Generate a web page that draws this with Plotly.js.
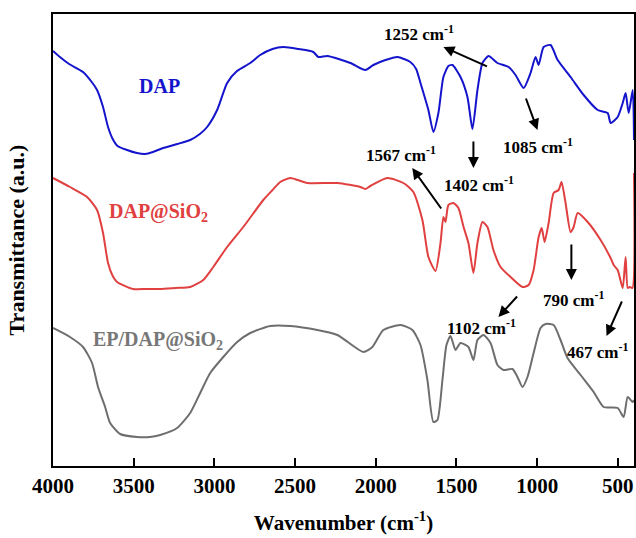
<!DOCTYPE html>
<html>
<head>
<meta charset="utf-8">
<script src="https://cdn.plot.ly/plotly-3.0.1.min.js"></script>
<style>html,body{margin:0;padding:0;background:#fff;}#chart{width:636px;height:538px;}</style>
</head>
<body>
<div id="chart"></div>
<script>
// Wavenumber (cm-1) and transmittance (a.u., offset curves)
const dapWavenumber = [4000,3957,3900,3814,3760,3727,3690,3659,3630,3600,3541,3480,3429,3380,3318,3230,3150,3090,3045,2983,2921,2860,2778,2716,2640,2573,2480,2387,2356,2300,2157,2065,2015,1940,1866,1786,1750,1723,1674,1643,1612,1581,1550,1525,1475,1432,1401,1370,1339,1301,1246,1177,1134,1084,1041,1010,991,960,917,873,793,712,625,563,545,501,470,452,433,408,400];
const dapValues = [415,409,402,394,384,376,359,339,327,320,316,313,312,314,318,322,326,332,339,356,383,395,403,411,417,419,417,414,409,410,403,396,401,406,409,404,397,383,356,334,353,389,400,401,389,369,337,376,403,410,403,399,391,378,393,409,401,419,421,406,389,371,356,353,343,349,363,373,353,376,326];

const dapSiO2Wavenumber = [4000,3895,3789,3727,3690,3659,3630,3603,3504,3420,3336,3240,3150,3069,3007,2921,2821,2697,2640,2592,2530,2424,2238,2096,2065,2034,1928,1829,1767,1711,1674,1630,1599,1581,1568,1550,1519,1488,1456,1426,1395,1370,1339,1308,1271,1227,1165,1091,1053,1022,991,972,954,929,898,867,849,824,793,774,749,687,607,545,526,501,470,452,439,427,410,400];
const dapSiO2Values = [288,279,269,256,233,203,190,184,177,177,177,178,179,186,199,219,239,266,276,284,288,283,283,279,277,280,288,283,274,246,209,195,223,249,244,261,263,258,239,223,193,223,244,239,216,199,189,179,181,196,229,238,224,243,273,276,284,263,234,239,253,244,226,208,201,196,178,209,178,179,178,293];

const epWavenumber = [4000,3895,3814,3758,3721,3677,3646,3584,3479,3400,3336,3231,3150,3088,3026,2945,2859,2778,2654,2530,2362,2238,2077,2021,1953,1847,1773,1723,1680,1643,1618,1587,1562,1537,1506,1475,1426,1395,1370,1333,1289,1246,1208,1153,1122,1091,1060,1022,979,948,898,855,812,731,650,588,501,464,439,408,400];
const epValues = [138,129,119,103,79,59,43,32,29,29,31,38,53,73,93,109,124,133,140,140,136,131,114,119,136,141,136,121,86,44,46,86,121,130,116,123,119,106,126,131,123,101,96,97,89,79,89,113,138,142,141,126,108,91,74,59,58,49,69,64,66];

const xTicks = [4000,3500,3000,2500,2000,1500,1000,500];

// Peak labels: [label, textX, textY, arrowTailX, arrowTailY, arrowTipX, arrowTipY]
const peakLabels = [
  ["1252 cm<sup>-1</sup>", 1730, 433, 1302, 399, 1581, 419],
  ["1085 cm<sup>-1</sup>", 992, 320, 1073, 369, 998, 336],
  ["1402 cm<sup>-1</sup>", 1358, 282, 1395, 326, 1395, 298],
  ["1567 cm<sup>-1</sup>", 1842, 312, 1588, 256, 1774, 298],
  ["790 cm<sup>-1</sup>", 775, 167, 788, 223, 788, 186],
  ["1102 cm<sup>-1</sup>", 1346, 139, 1116, 171, 1240, 149],
  ["467 cm<sup>-1</sup>", 626, 115, 471, 166, 570, 130]
];

// Series labels: [text, x, y, color]
const seriesLabels = [
  ["DAP", 3343, 380, "#1414cc"],
  ["DAP@SiO<sub>2</sub>", 3349, 254, "#e04040"],
  ["EP/DAP@SiO<sub>2</sub>", 3352, 126, "#777777"]
];

const serif = "Liberation Serif, Times New Roman, serif";

const traces = [
  {x: dapWavenumber, y: dapValues, mode: "lines", line: {color: "#1414cc", width: 2, shape: "spline", smoothing: 0.6}, name: "DAP"},
  {x: dapSiO2Wavenumber, y: dapSiO2Values, mode: "lines", line: {color: "#e04040", width: 2, shape: "spline", smoothing: 0.6}, name: "DAP@SiO2"},
  {x: epWavenumber, y: epValues, mode: "lines", line: {color: "#6e6e6e", width: 2, shape: "spline", smoothing: 0.6}, name: "EP/DAP@SiO2"}
];

const annotations = [];
peakLabels.forEach(p => {
  annotations.push({
    x: p[1], y: p[2], xref: "x", yref: "y", text: p[0], showarrow: false,
    xanchor: "center", yanchor: "middle",
    font: {family: serif, size: 17, color: "#000", weight: "bold"}
  });
  annotations.push({
    x: p[5], y: p[6], ax: p[3], ay: p[4], xref: "x", yref: "y", axref: "x", ayref: "y",
    text: "", showarrow: true, arrowhead: 2, arrowsize: 1.1, arrowwidth: 2,
    arrowcolor: "#000", standoff: 0, startstandoff: 0
  });
});
seriesLabels.forEach(s => {
  annotations.push({
    x: s[1], y: s[2], xref: "x", yref: "y", text: s[0], showarrow: false,
    xanchor: "center", yanchor: "middle",
    font: {family: serif, size: 20, color: s[3], weight: "bold"}
  });
});

const layout = {
  width: 636, height: 538,
  margin: {l: 53, r: 2, t: 14, b: 72},
  paper_bgcolor: "#fff", plot_bgcolor: "#fff",
  showlegend: false,
  xaxis: {
    range: [4000, 400], tickvals: xTicks, ticktext: xTicks.map(String),
    ticks: "inside", ticklen: 8, tickwidth: 2, tickcolor: "#000",
    showline: true, linewidth: 2, linecolor: "#000", mirror: true,
    showgrid: false, zeroline: false,
    tickfont: {family: serif, size: 21, color: "#000", weight: "bold"},
    title: {text: "Wavenumber (cm<sup>-1</sup>)", font: {family: serif, size: 21, color: "#000", weight: "bold"}, standoff: 18}
  },
  yaxis: {
    range: [0, 452], showticklabels: false, ticks: "",
    showline: true, linewidth: 2, linecolor: "#000", mirror: true,
    showgrid: false, zeroline: false,
    title: {text: "Transmittance (a.u.)", font: {family: serif, size: 22, color: "#000", weight: "bold"}, standoff: 20}
  },
  annotations: annotations
};

Plotly.newPlot("chart", traces, layout, {displayModeBar: false, staticPlot: true});
</script>
</body>
</html>
